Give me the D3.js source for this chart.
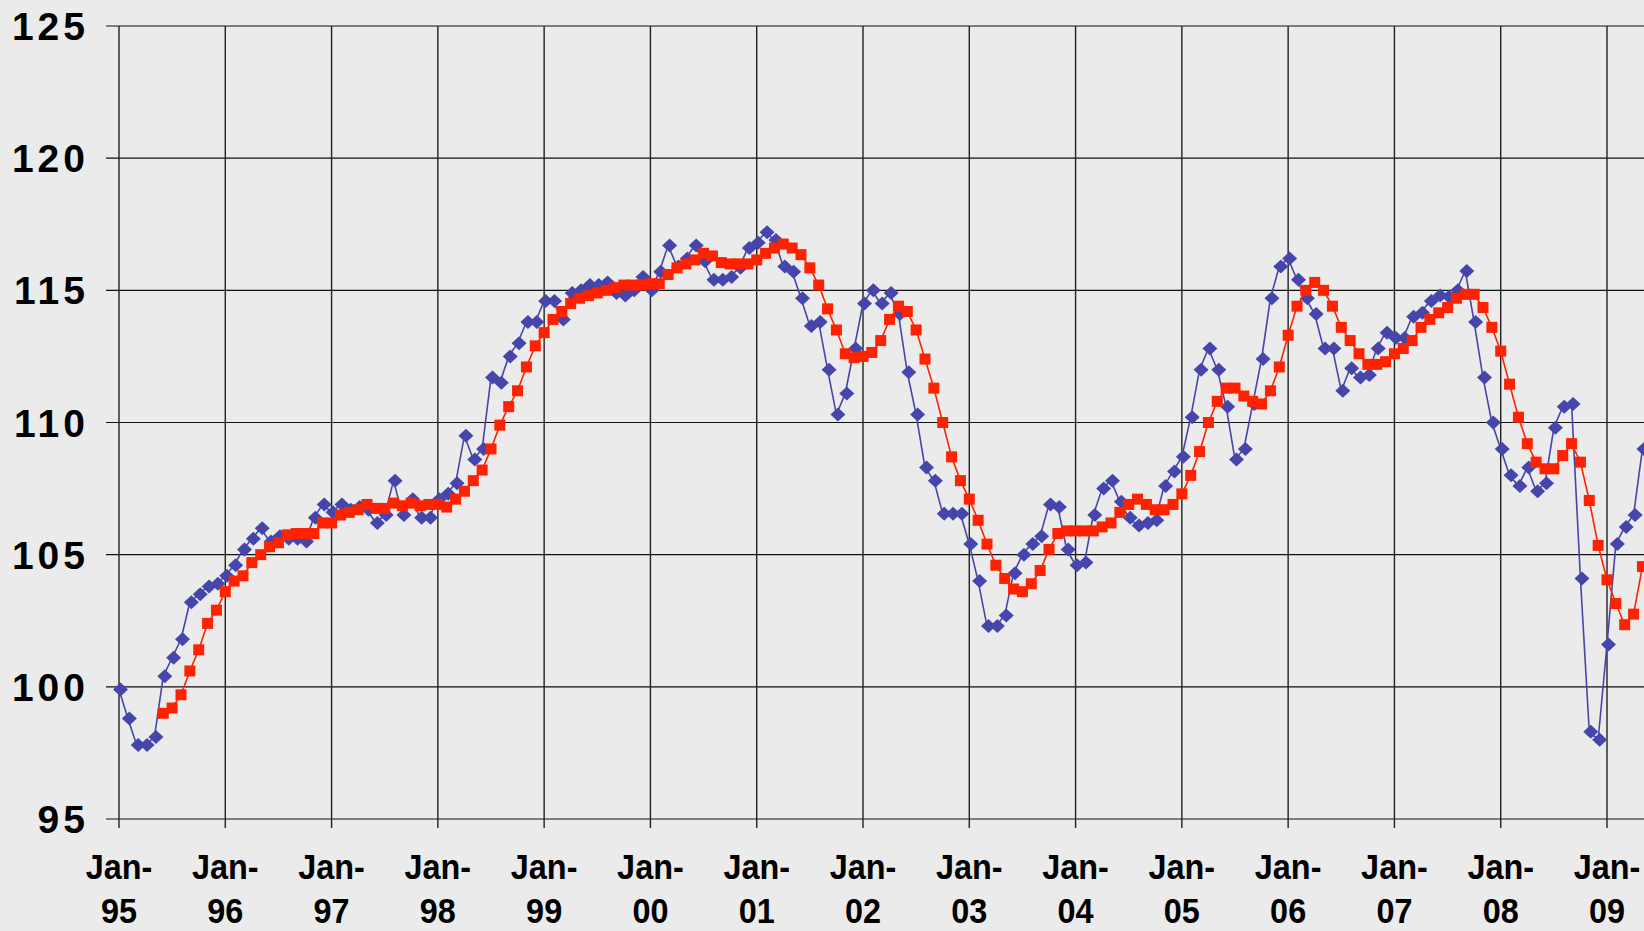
<!DOCTYPE html>
<html><head><meta charset="utf-8">
<script src="https://cdn.jsdelivr.net/npm/d3@7/dist/d3.min.js"></script>
<style>html,body{margin:0;padding:0;background:#ebebeb;overflow:hidden}</style>
</head><body>
<svg id="chart" width="1644" height="931"></svg>
<script>
// ---- data ----
const yearLabels = ["95","96","97","98","99","00","01","02","03","04","05","06","07","08","09"];
const monthPrefix = "Jan-";
const yTickValues = [95,100,105,110,115,120,125];

// monthly index, series A (blue diamonds) starts Jan-95
const seriesA = [
 99.9,98.8,97.8,97.8,98.1,100.4,101.1,101.8,103.2,103.5,103.8,103.9,
 104.2,104.6,105.2,105.6,106.0,105.5,105.7,105.6,105.6,105.5,106.4,106.9,
 106.6,106.9,106.7,106.8,106.7,106.2,106.5,107.8,106.5,107.1,106.4,106.4,
 107.1,107.3,107.7,109.5,108.6,109.0,111.7,111.5,112.5,113.0,113.8,113.8,
 114.6,114.6,113.9,114.9,115.0,115.2,115.2,115.3,114.9,114.8,115.0,115.5,
 115.0,115.7,116.7,115.9,116.2,116.7,116.1,115.4,115.4,115.5,115.85,116.6,
 116.8,117.2,116.9,115.9,115.7,114.7,113.65,113.8,112.0,110.3,111.1,112.8,
 114.5,115.0,114.5,114.9,114.1,111.9,110.3,108.3,107.8,106.55,106.55,106.55,
 105.4,104.0,102.3,102.3,102.7,104.3,105.0,105.4,105.7,106.9,106.8,105.2,
 104.6,104.7,106.5,107.5,107.8,107.0,106.4,106.1,106.2,106.3,107.6,108.15,
 108.7,110.2,112.0,112.8,112.0,110.6,108.6,109.0,110.7,112.4,114.7,115.9,
 116.2,115.4,114.7,114.1,112.8,112.8,111.2,112.05,111.7,111.8,112.8,113.4,
 113.2,113.2,114.0,114.15,114.6,114.8,114.76,115.0,115.73,113.8,111.7,110.0,
 109.0,108.0,107.6,108.3,107.4,107.7,109.8,110.6,110.7,104.1,98.3,98.0,
 101.6,105.4,106.05,106.5,109.0
];

// series B (red squares) starts at Jun-95 (month index 5)
const seriesBStart = 5;
const seriesB = [
 99.0,99.2,99.7,100.6,101.4,102.4,102.9,
 103.6,104.0,104.2,104.7,105.0,105.3,105.45,105.75,105.8,105.8,105.8,106.2,
 106.2,106.5,106.6,106.7,106.9,106.75,106.75,106.95,106.85,106.95,106.85,106.9,
 106.9,106.8,107.1,107.4,107.8,108.2,109.0,109.9,110.6,111.2,112.1,112.9,
 113.4,113.9,114.2,114.5,114.7,114.8,114.9,115.0,115.1,115.2,115.2,115.2,
 115.25,115.25,115.6,115.85,116.0,116.15,116.4,116.3,116.05,116.0,116.0,116.0,
 116.15,116.4,116.6,116.75,116.6,116.35,115.85,115.2,114.3,113.5,112.6,112.45,
 112.5,112.65,113.1,113.9,114.4,114.2,113.5,112.4,111.3,110.0,108.7,107.8,
 107.1,106.3,105.4,104.6,104.1,103.7,103.6,103.9,104.4,105.2,105.8,105.9,
 105.9,105.9,105.9,106.05,106.2,106.6,106.9,107.1,106.9,106.7,106.7,106.9,
 107.3,108.0,108.9,110.0,110.8,111.3,111.3,111.0,110.8,110.7,111.2,112.1,
 113.3,114.4,115.0,115.3,115.0,114.4,113.6,113.1,112.6,112.2,112.2,112.3,
 112.6,112.8,113.1,113.6,113.9,114.15,114.35,114.7,114.85,114.85,114.35,113.6,
 112.7,111.45,110.2,109.2,108.5,108.25,108.25,108.75,109.2,108.5,107.05,105.35,
 104.05,103.15,102.35,102.75,104.55
];

// ---- layout ----
const svg = d3.select("#chart");
const W = 1644, H = 931;
const monthsPerTick = 12;
const x = d3.scaleLinear().domain([0, (yearLabels.length - 1) * monthsPerTick]).range([119, 1607]);
const y = d3.scaleLinear().domain([95, 125]).range([819, 26]);

svg.append("rect").attr("width", W).attr("height", H).attr("fill", "#ebebeb");

const grid = svg.append("g");
grid.selectAll("line.h").data(yTickValues).join("line")
  .attr("x1", 106).attr("x2", W)
  .attr("y1", d => y(d)).attr("y2", d => y(d))
  .attr("stroke", "#111").attr("stroke-width", 1.2);
const tickIdx = yearLabels.map((_, i) => i * monthsPerTick);
grid.selectAll("line.v").data(tickIdx).join("line")
  .attr("x1", d => x(d)).attr("x2", d => x(d))
  .attr("y1", y(125)).attr("y2", y(95) + 9)
  .attr("stroke", "#222").attr("stroke-width", 1.4);

// y labels
svg.append("g").selectAll("text").data(yTickValues).join("text")
  .attr("x", 89).attr("y", d => y(d) + 14)
  .attr("text-anchor", "end")
  .attr("font-family", "'Liberation Sans', Arial, sans-serif")
  .attr("font-weight", "bold").attr("font-size", 39)
  .attr("letter-spacing", 4)
  .attr("fill", "#000")
  .text(d => d);

// x labels
const xl = svg.append("g").selectAll("g").data(yearLabels).join("g")
  .attr("transform", (d, i) => `translate(${x(i * monthsPerTick)},0) scale(0.9,1)`);
xl.append("text").attr("y", 879).attr("text-anchor", "middle")
  .attr("font-family", "'Liberation Sans', Arial, sans-serif")
  .attr("font-weight", "bold").attr("font-size", 36).attr("fill", "#000")
  .text(monthPrefix);
xl.append("text").attr("y", 923).attr("text-anchor", "middle")
  .attr("font-family", "'Liberation Sans', Arial, sans-serif")
  .attr("font-weight", "bold").attr("font-size", 36).attr("fill", "#000")
  .text(d => d);

// series
const ptsA = seriesA.map((v, i) => [i, v]);
const ptsB = seriesB.map((v, i) => [i + seriesBStart, v]);
const line = d3.line().x(d => x(d[0])).y(d => y(d[1]));

const blue = "#4545ab", red = "#ff2200";
svg.append("path").datum(ptsA).attr("d", line).attr("fill", "none")
  .attr("stroke", blue).attr("stroke-width", 1.6);
svg.append("g").selectAll("path").data(ptsA).join("path")
  .attr("transform", d => `translate(${x(d[0]) + 1.5},${y(d[1])})`)
  .attr("d", "M0,-7L7.5,0L0,7L-7.5,0Z").attr("fill", blue);

svg.append("path").datum(ptsB).attr("d", line).attr("fill", "none")
  .attr("stroke", red).attr("stroke-width", 1.6);
svg.append("g").selectAll("rect").data(ptsB).join("rect")
  .attr("x", d => x(d[0]) - 5.5).attr("y", d => y(d[1]) - 5.5)
  .attr("width", 11).attr("height", 11).attr("fill", red);
</script>
</body></html>
